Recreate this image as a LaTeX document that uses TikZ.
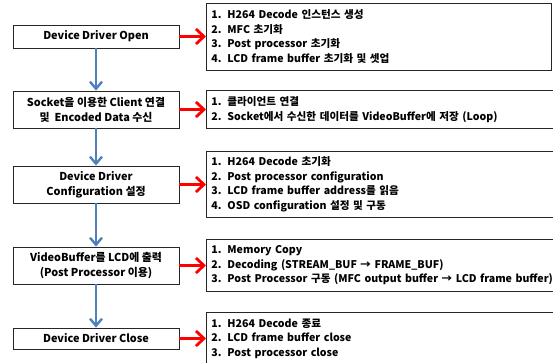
\documentclass[tikz,border=0pt]{standalone}
\usepackage{fontspec}
\setmainfont{Noto Sans CJK KR}
\usetikzlibrary{arrows.meta}
\definecolor{flowblue}{HTML}{4F81BD}
\newcommand{\itm}[1]{\makebox[16pt][l]{#1}}
\tikzset{
  stepbox/.style={draw=black!85, line width=0.9pt, minimum width=166pt, align=center,
    inner sep=2pt, font=\fontsize{10.9}{15}\selectfont\bfseries},
  notebox/.style={draw=black!85, line width=0.9pt, anchor=west, align=left,
    inner xsep=5pt, inner ysep=2pt, font=\fontsize{10.6}{14.5}\selectfont\bfseries},
  flowarrow/.style={draw=flowblue, line width=2.4pt, -{Straight Barb[length=7pt,width=12pt,line width=2.4pt]}},
  notearrow/.style={draw=red, line width=2.8pt, -{Straight Barb[length=8pt,width=15pt,line width=2.8pt]}}
}
\begin{document}
\begin{tikzpicture}[x=1pt,y=-1pt]
\useasboundingbox (0,0) rectangle (553,362);
\clip (0,0) rectangle (553,362);
\fill[white] (0,0) rectangle (553,362);

% process steps
\node[stepbox, minimum height=23pt] (b1) at (96,36.5) {Device Driver Open};
\node[stepbox, minimum height=37pt] (b2) at (96,109.5) {Socket을 이용한 Client 연결\\및\ \ Encoded Data 수신};
\node[stepbox, minimum height=37pt] (b3) at (96,184.5) {Device Driver\\Configuration 설정};
\node[stepbox, minimum height=37pt] (b4) at (96,265.5) {VideoBuffer를 LCD에 출력\\(Post Processor 이용)};
\node[stepbox, minimum height=21pt] (b5) at (96,338.5) {Device Driver Close};

% details of each step
\node[notebox, text width=335pt, minimum height=67pt] (r1) at (206,36.5) {%
  \itm{1.}H264 Decode 인스턴스 생성\\
  \itm{2.}MFC 초기화\\
  \itm{3.}Post processor 초기화\\
  \itm{4.}LCD frame buffer 초기화 및 셋업};
\node[notebox, text width=370pt, minimum height=38pt] (r2) at (206,109.5) {%
  \itm{1.}클라이언트 연결\\
  \itm{2.}Socket에서 수신한 데이터를 VideoBuffer에 저장 (Loop)};
\node[notebox, text width=370pt, minimum height=66pt] (r3) at (206,184.5) {%
  \itm{1.}H264 Decode 초기화\\
  \itm{2.}Post processor configuration\\
  \itm{3.}LCD frame buffer address를 읽음\\
  \itm{4.}OSD configuration 설정 및 구동};
\node[notebox, text width=370pt, minimum height=52pt] (r4) at (206,265.5) {%
  \itm{1.}Memory Copy\\
  \itm{2.}Decoding (STREAM\_BUF → FRAME\_BUF)\\
  \itm{3.}Post Processor 구동 (MFC output buffer → LCD frame buffer)};
\node[notebox, text width=370pt, minimum height=52pt] (r5) at (206,338.5) {%
  \itm{1.}H264 Decode 종료\\
  \itm{2.}LCD frame buffer close\\
  \itm{3.}Post processor close};

% flow between steps
\draw[flowarrow] (b1) -- (b2);
\draw[flowarrow] (b2) -- (b3);
\draw[flowarrow] (b3) -- (b4);
\draw[flowarrow] (b4) -- (b5);

% links to details
\foreach \i in {1,...,5}
  \draw[notearrow] (b\i.east) -- (r\i.west);
\end{tikzpicture}
\end{document}
